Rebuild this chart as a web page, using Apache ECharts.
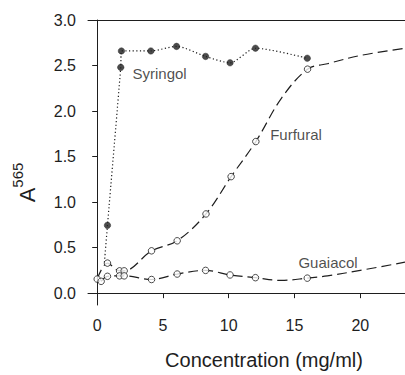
<!DOCTYPE html>
<html>
<head>
<meta charset="utf-8">
<script src="https://cdn.jsdelivr.net/npm/echarts@6/dist/echarts.min.js"></script>
<style>
  html, body { margin: 0; padding: 0; background: #fff; }
  #chart { width: 405px; height: 375px; }
</style>
</head>
<body>
<div id="chart"></div>
<script>
// Datos
const xTicks = [0, 5, 10, 15, 20];
const yTicks = [0, 0.5, 1.0, 1.5, 2.0, 2.5, 3.0];

// Syringol (puntos llenos, línea punteada)
const syringolX = [0.78, 1.79, 1.84, 4.08, 6.03, 8.24, 10.1, 12.03, 15.97];
const syringolY = [0.745, 2.48, 2.66, 2.66, 2.71, 2.60, 2.53, 2.69, 2.58];
const syringolCurveX = [0.55, 0.78, 1.79, 1.84, 4.08, 6.03, 8.24, 10.1, 12.03, 15.97];
const syringolCurveY = [0.34, 0.745, 2.48, 2.66, 2.66, 2.71, 2.60, 2.53, 2.69, 2.58];

// Furfural (círculos abiertos, línea discontinua)
const furfuralX = [0, 0.78, 1.7, 2.05, 4.13, 6.08, 8.27, 10.18, 12.06, 15.99];
const furfuralY = [0.155, 0.33, 0.245, 0.245, 0.465, 0.575, 0.87, 1.28, 1.665, 2.46];
const furfuralCurveX = [0, 0.78, 1.7, 2.05, 4.13, 6.08, 8.27, 10.18, 12.06, 14, 15.99, 17.5, 20, 23.4];
const furfuralCurveY = [0.155, 0.33, 0.245, 0.245, 0.465, 0.575, 0.87, 1.28, 1.665, 2.14, 2.46, 2.52, 2.61, 2.69];

// Guaiacol (círculos abiertos, línea discontinua)
const guaiacolX = [0.3, 0.78, 1.7, 2.05, 4.13, 6.08, 8.24, 10.1, 12.03, 15.97];
const guaiacolY = [0.13, 0.185, 0.19, 0.19, 0.15, 0.21, 0.25, 0.20, 0.17, 0.165];
const guaiacolCurveX = [0.3, 0.78, 1.7, 2.05, 4.13, 6.08, 8.24, 10.1, 12.03, 14, 15.97, 17.5, 20, 23.4];
const guaiacolCurveY = [0.13, 0.185, 0.19, 0.19, 0.15, 0.21, 0.25, 0.20, 0.17, 0.14, 0.165, 0.19, 0.25, 0.34];

// Etiquetas de las series
const labelNames = ['Syringol', 'Furfural', 'Guaiacol'];
const labelX = [2.68, 13.15, 15.3];
const labelY = [2.41, 1.74, 0.34];

const pairs = (xs, ys) => xs.map((x, i) => [x, ys[i]]);

const ink = '#1e1e1e';
const font = 'Arial, "Liberation Sans", sans-serif';

const chart = echarts.init(document.getElementById('chart'), null, { renderer: 'svg' });

// Estilo común de las curvas (sin símbolos)
const curve = (name, xs, ys, dash, smooth) => ({
    name: name,
    type: 'line',
    data: pairs(xs, ys),
    smooth: smooth,
    showSymbol: false,
    symbol: 'none',
    silent: true,
    z: 2,
    lineStyle: { color: ink, width: 1.2, type: dash, cap: 'butt' }
});

const option = {
    animation: false,
    backgroundColor: '#fff',
    grid: { left: 88, right: 0, top: 20, bottom: 67 },
    xAxis: [
        {
            type: 'value',
            min: -0.7,
            max: 23.4,
            name: 'Concentration (mg/ml)',
            nameLocation: 'middle',
            nameGap: 45,
            nameTextStyle: { fontSize: 20, color: ink, fontFamily: font, padding: [0, 0, 0, 35] },
            axisLine: { lineStyle: { color: ink, width: 1 } },
            axisTick: { show: true, length: 5, customValues: xTicks, lineStyle: { color: ink } },
            axisLabel: { customValues: xTicks, margin: 12, fontSize: 16, color: ink, fontFamily: font },
            splitLine: { show: false }
        },
        {
            type: 'value',
            position: 'top',
            min: -0.7,
            max: 23.4,
            axisLine: { show: true, lineStyle: { color: ink, width: 1 } },
            axisTick: { show: false },
            axisLabel: { show: false },
            splitLine: { show: false }
        }
    ],
    yAxis: {
        type: 'value',
        min: -0.13,
        max: 3.0,
        name: '{a|A}{s|565}',
        nameLocation: 'middle',
        nameGap: 50,
        nameTextStyle: {
            color: ink,
            fontFamily: font,
            padding: [0, 40, 0, 0],
            rich: {
                a: { fontSize: 22, lineHeight: 28, verticalAlign: 'bottom', color: ink, fontFamily: font },
                s: { fontSize: 15, lineHeight: 15, verticalAlign: 'top', color: ink, fontFamily: font }
            }
        },
        axisLine: { show: true, lineStyle: { color: ink, width: 1 } },
        axisTick: { show: true, length: 5, customValues: yTicks, lineStyle: { color: ink } },
        axisLabel: {
            customValues: yTicks,
            margin: 12,
            fontSize: 16,
            color: ink,
            fontFamily: font,
            formatter: v => v.toFixed(1)
        },
        splitLine: { show: false }
    },
    series: [
        curve('Syringol curve', syringolCurveX, syringolCurveY, [1.2, 2.4], 0.25),
        curve('Furfural curve', furfuralCurveX, furfuralCurveY, [10, 5], 0.35),
        curve('Guaiacol curve', guaiacolCurveX, guaiacolCurveY, [10, 5], 0.35),
        {
            name: 'Syringol',
            type: 'scatter',
            data: pairs(syringolX, syringolY),
            symbol: 'circle',
            symbolSize: 6.5,
            z: 4,
            itemStyle: { color: ink, borderColor: ink, borderWidth: 0.5 }
        },
        {
            name: 'Furfural',
            type: 'scatter',
            data: pairs(furfuralX, furfuralY),
            symbol: 'circle',
            symbolSize: 6.5,
            z: 4,
            itemStyle: { color: '#fff', borderColor: ink, borderWidth: 1 }
        },
        {
            name: 'Guaiacol',
            type: 'scatter',
            data: pairs(guaiacolX, guaiacolY),
            symbol: 'circle',
            symbolSize: 6.5,
            z: 4,
            itemStyle: { color: '#fff', borderColor: ink, borderWidth: 1 }
        },
        {
            name: 'labels',
            type: 'scatter',
            silent: true,
            symbolSize: 0,
            data: labelNames.map((n, i) => ({ name: n, value: [labelX[i], labelY[i]] })),
            label: {
                show: true,
                position: 'right',
                distance: 0,
                formatter: p => p.name,
                fontSize: 15,
                color: ink,
                fontFamily: font
            },
            z: 5
        }
    ]
};

chart.setOption(option);
</script>
</body>
</html>
